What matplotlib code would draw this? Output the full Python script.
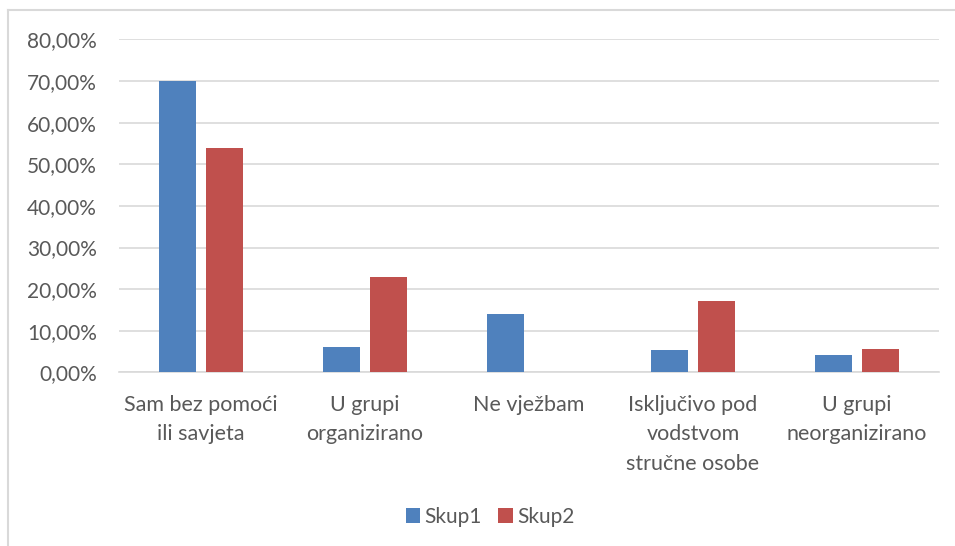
import numpy as np
import matplotlib.pyplot as plt
from matplotlib.lines import Line2D
from matplotlib.ticker import FuncFormatter

categories = ["Sam bez pomoći\nili savjeta", "U grupi\norganizirano", "Ne vježbam",
              "Isključivo pod\nvodstvom\nstručne osobe", "U grupi\nneorganizirano"]
skup1 = [70.0, 6.0, 13.9, 5.4, 4.1]
skup2 = [54.0, 22.9, 0.0, 17.1, 5.6]
series_names = ["Skup1", "Skup2"]

plt.rcParams['font.family'] = ['Lato', 'DejaVu Sans']
text_color = '#595959'
grid_color = '#d9d9d9'

fig = plt.figure(figsize=(9.55, 5.46), dpi=100)
ax = fig.add_axes([0.1246, 0.3181, 0.8586, 0.6096])

x = np.arange(len(categories))
w = 0.225
off = 0.143
ax.bar(x - off, skup1, w, color='#4f81bd', label=series_names[0], zorder=3)
ax.bar(x + off, skup2, w, color='#c0504d', label=series_names[1], zorder=3)

ax.set_xlim(-0.5, len(categories) - 0.5)
ax.set_ylim(0, 80)
ax.set_yticks(np.arange(0, 81, 10))
ax.yaxis.set_major_formatter(FuncFormatter(lambda v, p: f"{v:.2f}".replace('.', ',') + '%'))
ax.grid(axis='y', color=grid_color, linewidth=1.2, zorder=0)
for s in ['top', 'right', 'left']:
    ax.spines[s].set_visible(False)
ax.spines['bottom'].set_color(grid_color)
ax.spines['bottom'].set_linewidth(1.2)

ax.set_xticks(x)
ax.set_xticklabels(categories, linespacing=1.6)
ax.tick_params(axis='both', length=0, colors=text_color)
ax.tick_params(axis='x', pad=16, labelsize=15.5)
ax.tick_params(axis='y', pad=16, labelsize=15)

leg = fig.legend(loc='center', bbox_to_anchor=(490 / 955, 1 - 517 / 546), ncol=2,
                 frameon=False, fontsize=15, handlelength=0.7, handleheight=0.7,
                 handletextpad=0.2, columnspacing=0.8)
for t in leg.get_texts():
    t.set_color(text_color)

# outer chart frame (cropped: only top and left edges visible)
fig.add_artist(Line2D([8 / 955, 8 / 955], [0, 1 - 10 / 546], transform=fig.transFigure,
                      color=grid_color, linewidth=1.5))
fig.add_artist(Line2D([8 / 955, 1], [1 - 10 / 546, 1 - 10 / 546], transform=fig.transFigure,
                      color=grid_color, linewidth=1.5))

fig.savefig('out.png', dpi=100)
